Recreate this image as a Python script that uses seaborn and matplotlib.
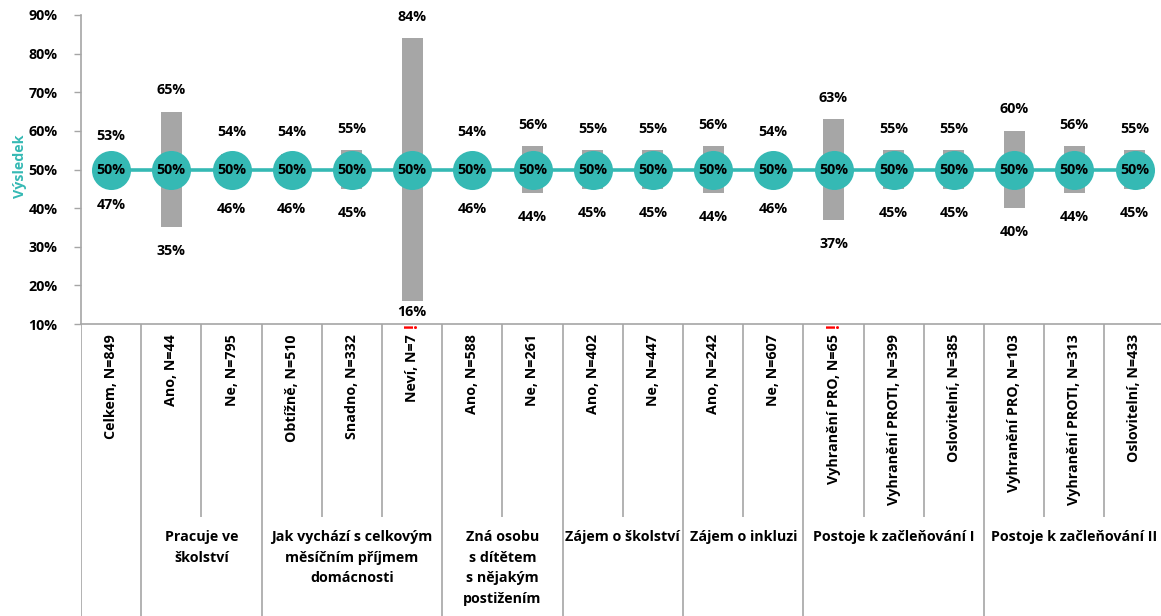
import matplotlib
matplotlib.use("Agg")
import matplotlib.pyplot as plt
import seaborn as sns
import numpy as np

categories = ["Celkem, N=849", "Ano, N=44", "Ne, N=795", "Obtížně, N=510", "Snadno, N=332",
              "Neví, N=7", "Ano, N=588", "Ne, N=261", "Ano, N=402", "Ne, N=447",
              "Ano, N=242", "Ne, N=607", "Vyhranění PRO, N=65", "Vyhranění PROTI, N=399",
              "Oslovitelní, N=385", "Vyhranění PRO, N=103", "Vyhranění PROTI, N=313",
              "Oslovitelní, N=433"]
high = [53, 65, 54, 54, 55, 84, 54, 56, 55, 55, 56, 54, 63, 55, 55, 60, 56, 55]
low = [47, 35, 46, 46, 45, 16, 46, 44, 45, 45, 44, 46, 37, 45, 45, 40, 44, 45]
result = [50] * 18
warning = [False, False, False, False, False, True, False, False, False, False,
           False, False, True, False, False, False, False, False]
groups = ["", "Pracuje ve\nškolství", "Jak vychází s celkovým\nměsíčním příjmem\ndomácnosti",
          "Zná osobu\ns dítětem\ns nějakým\npostižením", "Zájem o školství", "Zájem o inkluzi",
          "Postoje k začleňování I", "Postoje k začleňování II"]
group_sizes = [1, 2, 3, 2, 2, 2, 3, 3]
yticks = [10, 20, 30, 40, 50, 60, 70, 80, 90]

sns.set_theme(style="white")
plt.rcParams['font.family'] = ['Open Sans', 'DejaVu Sans']

TEAL = "#35B9B4"
GRAY = "#A6A6A6"
LINE = "#A6A6A6"
FS = 10.3

W, H = 1161, 616
fig = plt.figure(figsize=(W / 100, H / 100), dpi=100)
n = len(categories)
cw = 60.2
left_px, top_px, axis_px = 81, 15, 324
ax = fig.add_axes([left_px / W, (H - axis_px) / H, n * cw / W, (axis_px - top_px) / H])
ax2 = fig.add_axes([left_px / W, 0, n * cw / W, (H - axis_px) / H])

x = np.arange(n)
hi = np.array(high)
lo = np.array(low)

ax.bar(x, hi - lo, bottom=lo, width=0.35, color=GRAY, zorder=1, linewidth=0)
sns.lineplot(x=x, y=result, ax=ax, color=TEAL, linewidth=2.6, zorder=2)
sns.scatterplot(x=x, y=result, ax=ax, s=790, color=TEAL, edgecolor=TEAL, linewidth=0,
                zorder=3, legend=False)

for xi, r, h, l in zip(x, result, high, low):
    ax.text(xi, r, f"{r}%", ha='center', va='center', fontsize=FS, fontweight='bold',
            color='black', zorder=4)
    ax.text(xi, h + 5.6, f"{h}%", ha='center', va='center', fontsize=FS, fontweight='bold',
            color='black')
    ax.text(xi, max(l - 6.2, 13.0), f"{l}%", ha='center', va='center', fontsize=FS,
            fontweight='bold', color='black')

ax.set_xlim(-0.5, n - 0.5)
ax.set_ylim(10, 90)
ax.set_xticks([])
ax.set_yticks(yticks)
ax.set_yticklabels([f"{v}%" for v in yticks], fontsize=FS, fontweight='bold', color='black')
ax.tick_params(axis='y', left=True, length=5, width=1, color=LINE, pad=12)
for s in ['top', 'right']:
    ax.spines[s].set_visible(False)
for s in ['left', 'bottom']:
    ax.spines[s].set_color(LINE)
    ax.spines[s].set_linewidth(1.2)
ax.set_ylabel("Výsledek", color=TEAL, fontsize=FS, fontweight='bold')
ax.yaxis.set_label_coords(-(left_px - 27) / (n * cw), 0.51)
ax.grid(False)

# lower category area
ax2.set_xlim(-0.5, n - 0.5)
ax2.set_ylim(H - axis_px, 0)
ax2.axis('off')
bounds = np.cumsum(group_sizes)[:-1] - 0.5
all_b = np.arange(1, n) - 0.5
inner = [b for b in all_b if b not in set(bounds)]
ax2.vlines([-0.5] + list(bounds), 0, H - axis_px, color=LINE, linewidth=1.2)
ax2.vlines(inner, 0, 193, color=LINE, linewidth=1.2)

for xi, c, w in zip(x, categories, warning):
    ax2.text(xi, 10, c, rotation=90, ha='center', va='top', fontsize=FS, fontweight='bold',
             color='black')
    if w:
        ax2.text(xi, 1.5, "!", rotation=90, ha='center', va='center', fontsize=12,
                 fontweight='bold', color='red', clip_on=True)

start = 0
for g, sz in zip(groups, group_sizes):
    center = start + (sz - 1) / 2
    if g:
        ax2.text(center, 206, g, ha='center', va='top', fontsize=FS, fontweight='bold',
                 color='black', linespacing=1.6)
    start += sz

fig.savefig("out.png", dpi=100)
